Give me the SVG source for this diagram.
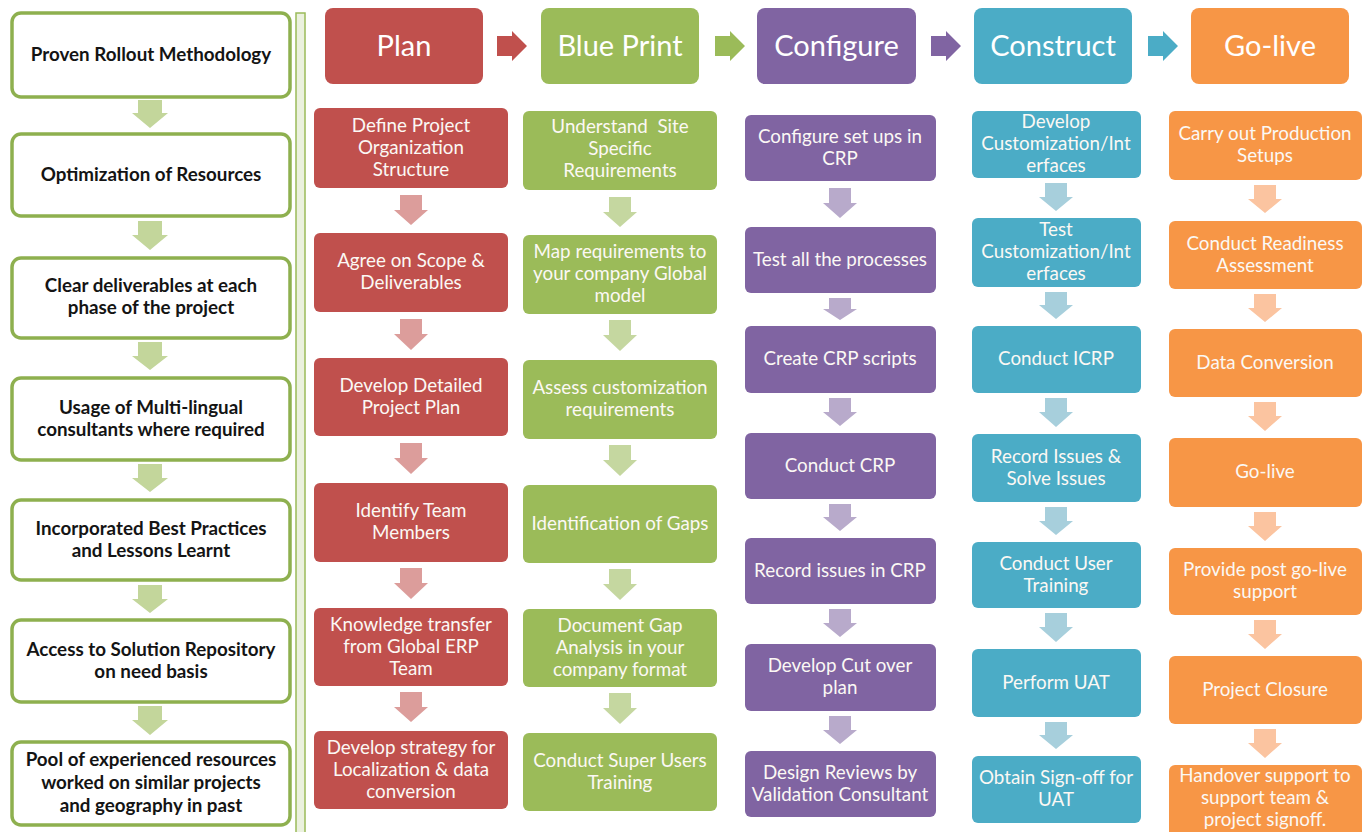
<svg xmlns="http://www.w3.org/2000/svg" width="1366" height="832" viewBox="0 0 1366 832">
<style>
.lbox{fill:#ffffff;stroke:#8eb04f;stroke-width:3.5}
.ltxt{font-family:Lato,"Liberation Sans",sans-serif;font-weight:bold;font-size:18.8px;fill:#141414;text-anchor:middle}
.htxt{font-family:Lato,"Liberation Sans",sans-serif;font-size:29px;fill:#ffffff;text-anchor:middle}
.btxt{font-family:Lato,"Liberation Sans",sans-serif;font-size:18.8px;fill:#fbf8f4;text-anchor:middle}
.red{fill:#c0504d}.grn{fill:#9bbb59}.pur{fill:#8064a2}.teal{fill:#4bacc6}.org{fill:#f79646}
.ared{fill:#dc9d9b}.agrn{fill:#c5d7a0}.apur{fill:#b8aacb}.ateal{fill:#a7cfdc}.aorg{fill:#fbc4a0}.alft{fill:#c3d69b}
</style>
<rect width="1366" height="832" fill="#ffffff"/>
<rect id="separator" x="296" y="13" width="9" height="830" fill="#ebf1de" stroke="#9bbb59" stroke-width="1.5"/>

<g id="left-1"><rect class="lbox" x="12" y="13" width="278" height="84" rx="9"/><text class="ltxt" x="151" y="61">Proven Rollout Methodology</text></g>
<g id="left-2"><rect class="lbox" x="12" y="134" width="278" height="82" rx="9"/><text class="ltxt" x="151" y="181">Optimization of Resources</text></g>
<g id="left-3"><rect class="lbox" x="12" y="258" width="278" height="80" rx="9"/><text class="ltxt" x="151" y="292">Clear deliverables at each</text><text class="ltxt" x="151" y="314">phase of the project</text></g>
<g id="left-4"><rect class="lbox" x="12" y="378" width="278" height="82" rx="9"/><text class="ltxt" x="151" y="414">Usage of Multi-lingual</text><text class="ltxt" x="151" y="436">consultants where required</text></g>
<g id="left-5"><rect class="lbox" x="12" y="500" width="278" height="80" rx="9"/><text class="ltxt" x="151" y="535">Incorporated Best Practices</text><text class="ltxt" x="151" y="557">and Lessons Learnt</text></g>
<g id="left-6"><rect class="lbox" x="12" y="620" width="278" height="82" rx="9"/><text class="ltxt" x="151" y="656">Access to Solution Repository</text><text class="ltxt" x="151" y="678">on need basis</text></g>
<g id="left-7"><rect class="lbox" x="12" y="742" width="278" height="83" rx="9"/><text class="ltxt" x="151" y="766">Pool of experienced resources</text><text class="ltxt" x="151" y="789">worked on similar projects</text><text class="ltxt" x="151" y="812">and geography in past</text></g>

<g id="hdr-plan"><rect class="red" x="325" y="8" width="158" height="76" rx="8"/><text class="htxt" x="404" y="56">Plan</text></g>
<g id="hdr-blueprint"><rect class="grn" x="541" y="8" width="158" height="76" rx="8"/><text class="htxt" x="620" y="56">Blue Print</text></g>
<g id="hdr-configure"><rect class="pur" x="757" y="8" width="159" height="76" rx="8"/><text class="htxt" x="836.5" y="56">Configure</text></g>
<g id="hdr-construct"><rect class="teal" x="974" y="8" width="158" height="76" rx="8"/><text class="htxt" x="1053" y="56">Construct</text></g>
<g id="hdr-golive"><rect class="org" x="1191" y="8" width="158" height="76" rx="8"/><text class="htxt" x="1270" y="56">Go-live</text></g>

<g id="plan-1"><rect class="red" x="314" y="108" width="194" height="80" rx="6"/><text class="btxt" x="411" y="132">Define Project</text><text class="btxt" x="411" y="154">Organization</text><text class="btxt" x="411" y="176">Structure</text></g>
<g id="plan-2"><rect class="red" x="314" y="233" width="194" height="79" rx="6"/><text class="btxt" x="411" y="267">Agree on Scope &amp;</text><text class="btxt" x="411" y="289">Deliverables</text></g>
<g id="plan-3"><rect class="red" x="314" y="358" width="194" height="78" rx="6"/><text class="btxt" x="411" y="392">Develop Detailed</text><text class="btxt" x="411" y="414">Project Plan</text></g>
<g id="plan-4"><rect class="red" x="314" y="483" width="194" height="79" rx="6"/><text class="btxt" x="411" y="517">Identify Team</text><text class="btxt" x="411" y="539">Members</text></g>
<g id="plan-5"><rect class="red" x="314" y="608" width="194" height="78" rx="6"/><text class="btxt" x="411" y="631">Knowledge transfer</text><text class="btxt" x="411" y="653">from Global ERP</text><text class="btxt" x="411" y="675">Team</text></g>
<g id="plan-6"><rect class="red" x="314" y="731" width="194" height="78" rx="6"/><text class="btxt" x="411" y="754">Develop strategy for</text><text class="btxt" x="411" y="776">Localization &amp; data</text><text class="btxt" x="411" y="798">conversion</text></g>

<g id="bp-1"><rect class="grn" x="523" y="111" width="194" height="79" rx="6"/><text class="btxt" x="620" y="133" xml:space="preserve">Understand  Site</text><text class="btxt" x="620" y="155">Specific</text><text class="btxt" x="620" y="177">Requirements</text></g>
<g id="bp-2"><rect class="grn" x="523" y="235" width="194" height="79" rx="6"/><text class="btxt" x="620" y="258">Map requirements to</text><text class="btxt" x="620" y="280">your company Global</text><text class="btxt" x="620" y="302">model</text></g>
<g id="bp-3"><rect class="grn" x="523" y="360" width="194" height="79" rx="6"/><text class="btxt" x="620" y="394">Assess customization</text><text class="btxt" x="620" y="416">requirements</text></g>
<g id="bp-4"><rect class="grn" x="523" y="485" width="194" height="78" rx="6"/><text class="btxt" x="620" y="530">Identification of Gaps</text></g>
<g id="bp-5"><rect class="grn" x="523" y="609" width="194" height="78" rx="6"/><text class="btxt" x="620" y="632">Document Gap</text><text class="btxt" x="620" y="654">Analysis in your</text><text class="btxt" x="620" y="676">company format</text></g>
<g id="bp-6"><rect class="grn" x="523" y="733" width="194" height="78" rx="6"/><text class="btxt" x="620" y="767">Conduct Super Users</text><text class="btxt" x="620" y="789">Training</text></g>

<g id="cfg-1"><rect class="pur" x="745" y="115" width="191" height="66" rx="6"/><text class="btxt" x="840" y="143">Configure set ups in</text><text class="btxt" x="840" y="165">CRP</text></g>
<g id="cfg-2"><rect class="pur" x="745" y="227" width="191" height="66" rx="6"/><text class="btxt" x="840" y="266">Test all the processes</text></g>
<g id="cfg-3"><rect class="pur" x="745" y="326" width="191" height="67" rx="6"/><text class="btxt" x="840" y="365">Create CRP scripts</text></g>
<g id="cfg-4"><rect class="pur" x="745" y="433" width="191" height="66" rx="6"/><text class="btxt" x="840" y="472">Conduct CRP</text></g>
<g id="cfg-5"><rect class="pur" x="745" y="538" width="191" height="66" rx="6"/><text class="btxt" x="840" y="577">Record issues in CRP</text></g>
<g id="cfg-6"><rect class="pur" x="745" y="644" width="191" height="67" rx="6"/><text class="btxt" x="840" y="672">Develop Cut over</text><text class="btxt" x="840" y="694">plan</text></g>
<g id="cfg-7"><rect class="pur" x="745" y="751" width="191" height="66" rx="6"/><text class="btxt" x="840" y="779">Design Reviews by</text><text class="btxt" x="840" y="801">Validation Consultant</text></g>

<g id="con-1"><rect class="teal" x="972" y="111" width="169" height="67" rx="6"/><text class="btxt" x="1056" y="128">Develop</text><text class="btxt" x="1056" y="150">Customization/Int</text><text class="btxt" x="1056" y="172">erfaces</text></g>
<g id="con-2"><rect class="teal" x="972" y="218" width="169" height="69" rx="6"/><text class="btxt" x="1056" y="236">Test</text><text class="btxt" x="1056" y="258">Customization/Int</text><text class="btxt" x="1056" y="280">erfaces</text></g>
<g id="con-3"><rect class="teal" x="972" y="326" width="169" height="67" rx="6"/><text class="btxt" x="1056" y="365">Conduct ICRP</text></g>
<g id="con-4"><rect class="teal" x="972" y="434" width="169" height="68" rx="6"/><text class="btxt" x="1056" y="463">Record Issues &amp;</text><text class="btxt" x="1056" y="485">Solve Issues</text></g>
<g id="con-5"><rect class="teal" x="972" y="542" width="169" height="66" rx="6"/><text class="btxt" x="1056" y="570">Conduct User</text><text class="btxt" x="1056" y="592">Training</text></g>
<g id="con-6"><rect class="teal" x="972" y="649" width="169" height="68" rx="6"/><text class="btxt" x="1056" y="689">Perform UAT</text></g>
<g id="con-7"><rect class="teal" x="972" y="756" width="169" height="67" rx="6"/><text class="btxt" x="1056" y="784">Obtain Sign-off for</text><text class="btxt" x="1056" y="806">UAT</text></g>

<g id="go-1"><rect class="org" x="1169" y="111" width="193" height="69" rx="6"/><text class="btxt" x="1265" y="140">Carry out Production</text><text class="btxt" x="1265" y="162">Setups</text></g>
<g id="go-2"><rect class="org" x="1169" y="221" width="193" height="68" rx="6"/><text class="btxt" x="1265" y="250">Conduct Readiness</text><text class="btxt" x="1265" y="272">Assessment</text></g>
<g id="go-3"><rect class="org" x="1169" y="329" width="193" height="68" rx="6"/><text class="btxt" x="1265" y="369">Data Conversion</text></g>
<g id="go-4"><rect class="org" x="1169" y="438" width="193" height="69" rx="6"/><text class="btxt" x="1265" y="478">Go-live</text></g>
<g id="go-5"><rect class="org" x="1169" y="548" width="193" height="67" rx="6"/><text class="btxt" x="1265" y="576">Provide post go-live</text><text class="btxt" x="1265" y="598">support</text></g>
<g id="go-6"><rect class="org" x="1169" y="656" width="193" height="68" rx="6"/><text class="btxt" x="1265" y="696">Project Closure</text></g>
<g id="go-7"><rect class="org" x="1169" y="765" width="193" height="80" rx="6"/><text class="btxt" x="1265" y="782">Handover support to</text><text class="btxt" x="1265" y="804">support team &amp;</text><text class="btxt" x="1265" y="826">project signoff.</text></g>

<g id="connectors">
<path class="red" d="M497 36H512V31L527 46L512 61V56H497Z"/>
<path class="grn" d="M715 36H730V31L745 46L730 61V56H715Z"/>
<path class="pur" d="M931 36H946V31L961 46L946 61V56H931Z"/>
<path class="teal" d="M1148 36H1163V31L1178 46L1163 61V56H1148Z"/>

<path class="alft" d="M138 100H162V113H168L150 128L132 113H138Z"/>
<path class="alft" d="M138 221H162V235H168L150 250L132 235H138Z"/>
<path class="alft" d="M138 342H162V356H168L150 370L132 356H138Z"/>
<path class="alft" d="M138 464H162V478H168L150 492L132 478H138Z"/>
<path class="alft" d="M138 585H162V599H168L150 613L132 599H138Z"/>
<path class="alft" d="M138 706H162V720H168L150 735L132 720H138Z"/>

<path class="ared" d="M400 195H422V210H428L411 225L394 210H400Z"/>
<path class="ared" d="M400 319H422V334H428L411 350L394 334H400Z"/>
<path class="ared" d="M400 443H422V458H428L411 474L394 458H400Z"/>
<path class="ared" d="M400 568H422V583H428L411 599L394 583H400Z"/>
<path class="ared" d="M400 692H422V707H428L411 722L394 707H400Z"/>

<path class="agrn" d="M609 197H631V212H637L620 227L603 212H609Z"/>
<path class="agrn" d="M609 320H631V335H637L620 351L603 335H609Z"/>
<path class="agrn" d="M609 445H631V460H637L620 476L603 460H609Z"/>
<path class="agrn" d="M609 569H631V584H637L620 600L603 584H609Z"/>
<path class="agrn" d="M609 693H631V708H637L620 724L603 708H609Z"/>

<path class="apur" d="M829 188H851V203H857L840 218L823 203H829Z"/>
<path class="apur" d="M829 298H851V309H857L840 320L823 309H829Z"/>
<path class="apur" d="M829 398H851V412H857L840 426L823 412H829Z"/>
<path class="apur" d="M829 504H851V517H857L840 531L823 517H829Z"/>
<path class="apur" d="M829 609H851V623H857L840 637L823 623H829Z"/>
<path class="apur" d="M829 716H851V730H857L840 744L823 730H829Z"/>

<path class="ateal" d="M1045 183H1067V197H1073L1056 211L1039 197H1045Z"/>
<path class="ateal" d="M1045 292H1067V305H1073L1056 319L1039 305H1045Z"/>
<path class="ateal" d="M1045 398H1067V412H1073L1056 427L1039 412H1045Z"/>
<path class="ateal" d="M1045 507H1067V521H1073L1056 535L1039 521H1045Z"/>
<path class="ateal" d="M1045 613H1067V627H1073L1056 642L1039 627H1045Z"/>
<path class="ateal" d="M1045 722H1067V735H1073L1056 749L1039 735H1045Z"/>

<path class="aorg" d="M1254 185H1276V199H1282L1265 213L1248 199H1254Z"/>
<path class="aorg" d="M1254 294H1276V308H1282L1265 322L1248 308H1254Z"/>
<path class="aorg" d="M1254 402H1276V416H1282L1265 431L1248 416H1254Z"/>
<path class="aorg" d="M1254 512H1276V526H1282L1265 541L1248 526H1254Z"/>
<path class="aorg" d="M1254 620H1276V634H1282L1265 649L1248 634H1254Z"/>
<path class="aorg" d="M1254 729H1276V743H1282L1265 758L1248 743H1254Z"/>
</g>
</svg>
